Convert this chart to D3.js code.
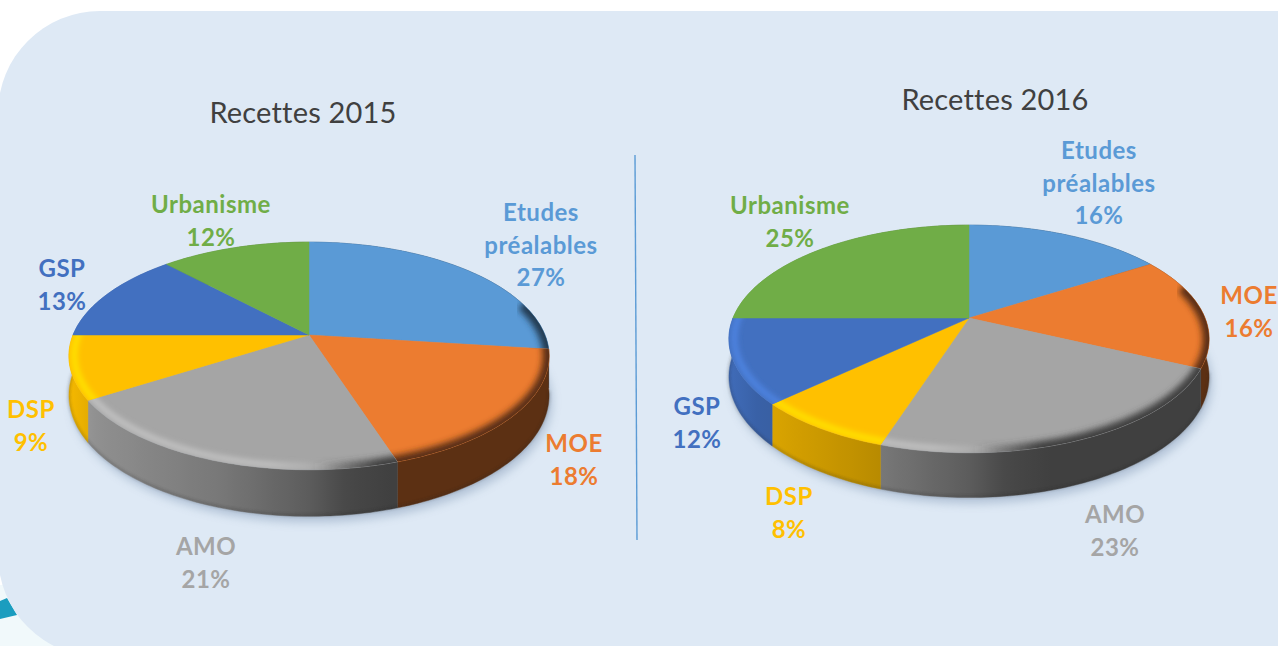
<!DOCTYPE html>
<html><head><meta charset="utf-8">
<script src="https://cdn.jsdelivr.net/npm/d3@7"></script>
<style>html,body{margin:0;padding:0;background:#fff;overflow:hidden}svg{display:block}text{font-family:Lato,sans-serif}</style>
</head><body><svg id="c" width="1278" height="646"></svg>
<script>
const categories = ["Etudes préalables","MOE","AMO","DSP","GSP","Urbanisme"];
const values2015 = [27,18,21,9,13,12];
const values2016 = [16,16,23,8,12,25];
const colors = ["#5A9AD6","#EC7C30","#A5A5A5","#FFC000","#4270C0","#70AD47"];
const titles = ["Recettes 2015","Recettes 2016"];

// layout only
const pies = [
  {values:values2015, title:titles[0], cx:309, cy:335, depth:38, titleAt:[303,123],
   labels:[[541,221],[574,452],[206,555],[31,418],[62,277],[211,213]]},
  {values:values2016, title:titles[1], cx:969, cy:318, depth:36.5, titleAt:[995,110],
   labels:[[1099,159],[1249,304],[1115,523],[789,505],[697,415],[790,214]]}
];
const K = 0.184, RX = 236, RY = 110, LH = 32.7;

const svg = d3.select("#c"), defs = svg.append("defs");
const blur = (id,s)=>defs.append("filter").attr("id",id)
  .attr("x","-20%").attr("y","-20%").attr("width","140%").attr("height","140%")
  .append("feGaussianBlur").attr("stdDeviation",s);
blur("b1",1.6); blur("b15",2.4); blur("b2",3.2); blur("b3",5);

// page background
svg.append("rect").attr("width",1278).attr("height",646).attr("fill","#fff");
svg.append("rect").attr("x",0).attr("y",585).attr("width",130).attr("height",61).attr("fill","#F1F9FB");
svg.append("path").attr("d","M0,601L7,598L17,615L0,619Z").attr("fill","#1B9DBF");
svg.append("path").attr("fill","#DEE9F5")
  .attr("d","M1290,11H100A102,102 0 0 0 -2,113V555A102,102 0 0 0 100,657H1290Z");
svg.append("path").attr("d","M635,155L637,540").attr("stroke","#5B9BD5").attr("stroke-width",1.4).attr("fill","none");

const shade = d3.scaleLinear().domain([-1,-.9,-.36,0,.15,.34,1]).range([.95,.87,.72,.56,.44,.39,.39]);
const lightOp = d3.scaleLinear().domain([-1,-.15,.12,1]).range([.8,.75,0,0]).clamp(true);
const darkOp = d3.scaleLinear().domain([-1,.02,.3,1]).range([0,0,1,1]).clamp(true);
const uStops = d3.range(-1,1.0001,.05);
const line = d3.line();

pies.forEach((p,pi)=>{
  const DEPTH = p.depth;
  const sx = d3.scaleLinear().domain([-1,1]).range([p.cx-RX,p.cx+RX]);
  const sy = d3.scaleLinear().domain([-1,1]).range([p.cy-RY,p.cy+RY]);
  const proj = (a,r=1,drop=0)=>{
    const u=r*Math.sin(a), v=-r*Math.cos(a), w=1-K*v;
    return [sx(u/w), sy(v/w)+drop/w];
  };
  const arcs = d3.pie().sort(null).value(d=>d)(p.values);
  const pts = (a0,a1,r=1,drop=0)=>{
    const n=Math.max(2,Math.ceil((a1-a0)/.02));
    return d3.range(n+1).map(i=>proj(a0+(a1-a0)*i/n,r,drop));
  };
  const g = svg.append("g");
  const full = pts(0,2*Math.PI,1,DEPTH);
  // soft shadow under the disc
  g.append("path").attr("d",line(full.map(d=>[d[0]+3,d[1]+6]))+"Z")
    .attr("fill","#6f88a8").attr("opacity",.4).attr("filter","url(#b3)");

  const grad=(id,fn)=>{
    const lg=defs.append("linearGradient").attr("id",id).attr("gradientUnits","userSpaceOnUse")
      .attr("x1",sx(-1)).attr("x2",sx(1)).attr("y1",0).attr("y2",0);
    uStops.forEach(u=>{
      const s=fn(u); lg.append("stop").attr("offset",(u+1)/2).attr("stop-color",s[0]).attr("stop-opacity",s[1]);
    });
    return `url(#${id})`;
  };
  // side wall
  arcs.forEach((a,i)=>{
    const c=d3.rgb(colors[i]);
    const fill=grad(`s${pi}${i}`,u=>{const k=shade(u);return [d3.rgb(c.r*k,c.g*k,c.b*k).formatHex(),1];});
    const top=pts(a.startAngle,a.endAngle), bot=pts(a.startAngle,a.endAngle,1,DEPTH).reverse();
    g.append("path").attr("d",line(top.concat(bot))+"Z").attr("fill",fill).attr("stroke",fill).attr("stroke-width",.4);
  });
  // dark lower lip
  g.append("path").attr("d",line(pts(Math.PI*.55,Math.PI*1.5,1,DEPTH-.8)))
    .attr("fill","none").attr("stroke","#222").attr("stroke-width",1.6).attr("opacity",.35).attr("filter","url(#b1)");
  // top face
  arcs.forEach((a,i)=>{
    const poly=[[sx(0),sy(0)]].concat(pts(a.startAngle,a.endAngle));
    const d=line(poly)+"Z";
    g.append("path").attr("d",d).attr("fill",colors[i]).attr("stroke",colors[i]).attr("stroke-width",.5);
    defs.append("clipPath").attr("id",`t${pi}${i}`).append("path").attr("d",d);
    const rim=g.append("g").attr("clip-path",`url(#t${pi}${i})`);
    const c=d3.rgb(colors[i]), lite=c.brighter(.5).formatHex();
    const dark=d3.rgb(c.r*.38,c.g*.38,c.b*.38).formatHex();
    const a0=Math.max(a.startAngle,Math.PI*.42), a1=Math.min(a.endAngle,Math.PI*1.5);
    if(a1>a0){
      rim.append("path").attr("d",line(pts(a0-.05,a1+.05,1)))
        .attr("fill","none").attr("stroke-width",13).attr("filter","url(#b2)")
        .attr("stroke",grad(`d${pi}${i}`,u=>[dark,darkOp(u)]));
      rim.append("path").attr("d",line(pts(a0-.05,a1+.05,.978)))
        .attr("fill","none").attr("stroke-width",7).attr("filter","url(#b15)")
        .attr("stroke",grad(`l${pi}${i}`,u=>[lite,lightOp(u)]));
    }
  });
  // title
  svg.append("text").attr("x",p.titleAt[0]).attr("y",p.titleAt[1]).attr("text-anchor","middle")
    .attr("font-size",29).attr("letter-spacing",.2).attr("fill","#404040").text(p.title);
  // labels
  categories.forEach((name,i)=>{
    const lines=(i===0?name.split(" "):[name]).concat(p.values[i]+"%");
    lines.forEach((t,j)=>svg.append("text").attr("x",p.labels[i][0]).attr("y",p.labels[i][1]+j*LH)
      .attr("text-anchor","middle").attr("font-size",24).attr("font-weight",700).attr("letter-spacing",.5)
      .attr("fill",colors[i]).text(t));
  });
});
</script></body></html>
